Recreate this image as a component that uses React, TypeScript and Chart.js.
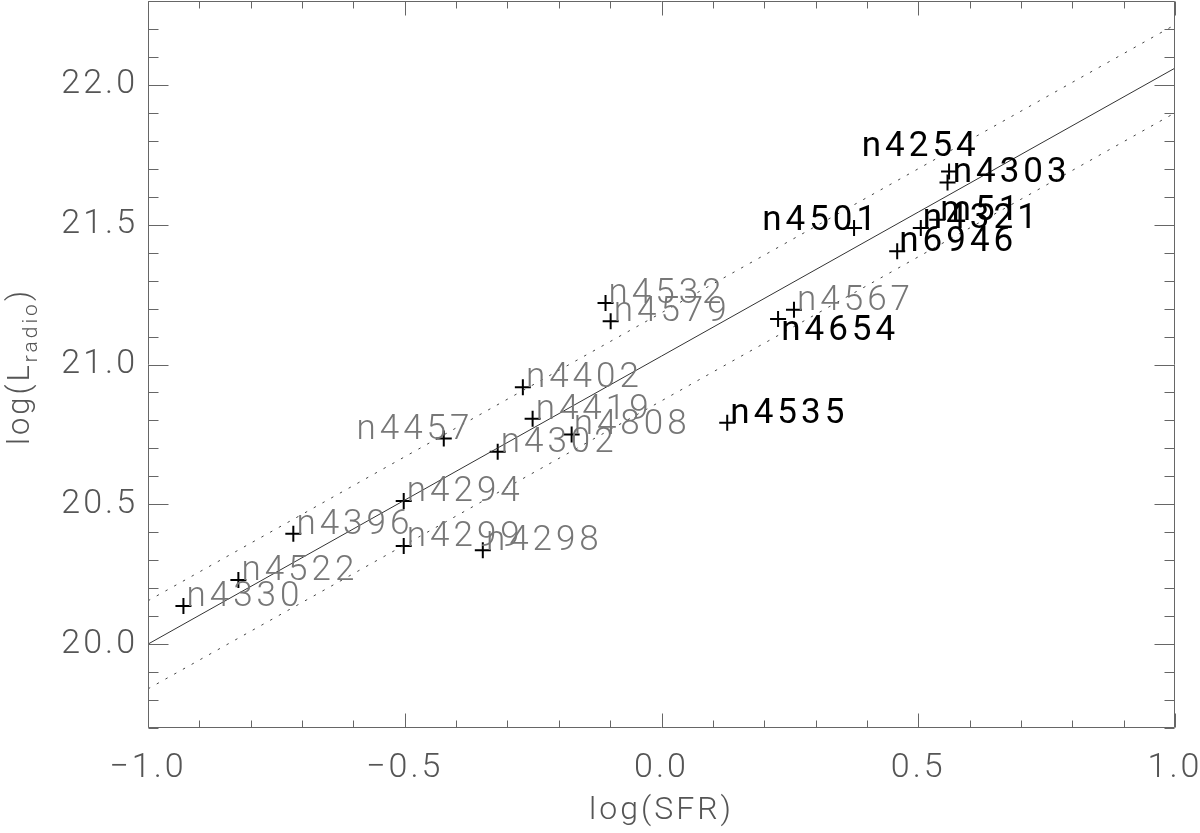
import React, { useEffect, useRef } from 'react';
import { Chart, registerables } from 'chart.js';

Chart.register(...registerables);

// ---- data ----
const galaxyNames = [
  'n4330', 'n4522', 'n4396', 'n4294', 'n4299', 'n4298', 'n4457', 'n4302',
  'n4402', 'n4419', 'n4808', 'n4532', 'n4579', 'n4535', 'n4654', 'n4567',
  'n4501', 'n4254', 'n4303', 'm51', 'n4321', 'n6946',
];
const logSFR = [
  -0.931, -0.824, -0.717, -0.502, -0.502, -0.348, -0.424, -0.319,
  -0.270, -0.251, -0.175, -0.109, -0.099, 0.128, 0.227, 0.258,
  0.375, 0.560, 0.557, 0.537, 0.505, 0.459,
];
const logLradio = [
  20.136, 20.229, 20.395, 20.512, 20.351, 20.336, 20.735, 20.688,
  20.919, 20.806, 20.750, 21.220, 21.155, 20.792, 21.163, 21.196,
  21.488, 21.690, 21.651, 21.518, 21.488, 21.405,
];
// labels drawn in black (others in grey)
const blackLabel = [
  false, false, false, false, false, false, false, false,
  false, false, false, false, false, true, true, false,
  true, true, true, true, true, true,
];
// label anchor shift from the point, in data units
const labelShiftX = [
  0.006, 0.006, 0.006, 0.006, 0.006, 0.006, -0.170, 0.006,
  0.006, 0.006, 0.004, 0.006, 0.006, 0.006, 0.006, 0.006,
  -0.179, -0.170, 0.010, 0.006, 0.004, 0.004,
];
const labelShiftY = [
  0, 0, 0, 0, 0, 0, 0, 0,
  0, 0, 0, 0, 0, 0, -0.075, 0,
  -0.007, 0.054, 0, 0, 0, 0,
];
// relation lines (end points)
const lineX = [-1.0, 1.0];
const fitLineY = [20.0, 22.06];
const upperLineY = [20.155, 22.215];
const lowerLineY = [19.84, 21.9];
// axes
const xMajorTicks = [-1.0, -0.5, 0.0, 0.5, 1.0];
const yMajorTicks = [20.0, 20.5, 21.0, 21.5, 22.0];
const xRange = [-1.0, 1.0];
const yRange = [19.7, 22.3];

const FONT = 'Roboto';
const isMajor = (v: number, majors: number[]) => majors.some((m) => Math.abs(m - v) < 1e-6);
const fmt = (v: number) => (v < -1e-9 ? '\u2212' + Math.abs(v).toFixed(1) : Math.abs(v).toFixed(1));

const zeroPad = (s: any) => {
  s.paddingTop = 0;
  s.paddingBottom = 0;
  s.paddingLeft = 0;
  s.paddingRight = 0;
};

const idlPlugin = {
  id: 'idlPlugin',
  beforeDraw(chart: any) {
    chart.ctx.letterSpacing = '3px';
  },
  afterDatasetsDraw(chart: any) {
    const { ctx, scales } = chart;
    const xs = scales.x;
    const ys = scales.y;
    ctx.save();
    ctx.letterSpacing = '4px';
    ctx.textAlign = 'left';
    ctx.textBaseline = 'alphabetic';
    galaxyNames.forEach((name, i) => {
      const px = xs.getPixelForValue(logSFR[i] + labelShiftX[i]);
      const py = ys.getPixelForValue(logLradio[i] + labelShiftY[i]);
      if (blackLabel[i]) {
        ctx.font = `400 35px ${FONT}`;
        ctx.fillStyle = '#000';
      } else {
        ctx.font = `300 35px ${FONT}`;
        ctx.fillStyle = '#777';
      }
      ctx.fillText(name, px, py);
    });
    ctx.restore();
  },
  afterDraw(chart: any) {
    const { ctx, chartArea: a, scales } = chart;
    const xs = scales.x;
    const ys = scales.y;
    ctx.save();
    ctx.letterSpacing = '0px';
    ctx.strokeStyle = '#666';
    ctx.lineWidth = 1;
    const L = Math.round(a.left) + 0.5;
    const R = Math.round(a.right) - 0.5;
    const T = Math.round(a.top) + 0.5;
    const B = Math.round(a.bottom) - 0.5;
    ctx.beginPath();
    ctx.rect(L, T, R - L, B - T);
    xs.ticks.forEach((t: any) => {
      const p = Math.round(xs.getPixelForValue(t.value)) + 0.5;
      const len = isMajor(t.value, xMajorTicks) ? 14 : 7;
      ctx.moveTo(p, B);
      ctx.lineTo(p, B - len);
      ctx.moveTo(p, T);
      ctx.lineTo(p, T + len);
    });
    ys.ticks.forEach((t: any) => {
      const p = Math.round(ys.getPixelForValue(t.value)) + 0.5;
      const len = isMajor(t.value, yMajorTicks) ? 20 : 10;
      ctx.moveTo(L, p);
      ctx.lineTo(L + len, p);
      ctx.moveTo(R, p);
      ctx.lineTo(R - len, p);
    });
    ctx.stroke();

    // y-axis title with subscript
    const big = `300 31px ${FONT}`;
    const small = `300 21px ${FONT}`;
    ctx.letterSpacing = '3px';
    ctx.fillStyle = '#555';
    ctx.textBaseline = 'alphabetic';
    ctx.textAlign = 'left';
    ctx.font = big;
    const w1 = ctx.measureText('log(L').width;
    const w3 = ctx.measureText(')').width;
    ctx.font = small;
    const w2 = ctx.measureText('radio').width;
    const total = w1 + w2 + w3;
    ctx.translate(29, (a.top + a.bottom) / 2 + 2);
    ctx.rotate(-Math.PI / 2);
    let x0 = -total / 2;
    ctx.font = big;
    ctx.fillText('log(L', x0, 0);
    x0 += w1;
    ctx.font = small;
    ctx.fillText('radio', x0, 8);
    x0 += w2;
    ctx.font = big;
    ctx.fillText(')', x0, 0);
    ctx.restore();
    chart.ctx.letterSpacing = '0px';
  },
};

export default function App() {
  const canvasRef = useRef<HTMLCanvasElement | null>(null);

  useEffect(() => {
    if (!canvasRef.current) return;
    const pts = logSFR.map((x, i) => ({ x, y: logLradio[i] }));
    const mk = (ys: number[]) => lineX.map((x, i) => ({ x, y: ys[i] }));
    const chart = new Chart(canvasRef.current, {
      type: 'scatter',
      data: {
        datasets: [
          {
            type: 'line',
            label: 'fit',
            data: mk(fitLineY),
            borderColor: '#333',
            borderWidth: 1,
            pointRadius: 0,
            fill: false,
          },
          {
            type: 'line',
            label: 'upper',
            data: mk(upperLineY),
            borderColor: '#444',
            borderWidth: 1,
            borderDash: [2.5, 7.5],
            pointRadius: 0,
            fill: false,
          },
          {
            type: 'line',
            label: 'lower',
            data: mk(lowerLineY),
            borderColor: '#444',
            borderWidth: 1,
            borderDash: [2.5, 7.5],
            pointRadius: 0,
            fill: false,
          },
          {
            label: 'galaxies',
            data: pts,
            pointStyle: 'cross',
            pointRadius: 8,
            pointBorderWidth: 2,
            borderColor: '#000',
            backgroundColor: '#000',
          } as any,
        ],
      },
      options: {
        responsive: false,
        animation: false,
        devicePixelRatio: 1,
        layout: { autoPadding: false, padding: { left: 0, right: 25, top: 1, bottom: 0 } },
        plugins: {
          legend: { display: false },
          tooltip: { enabled: false },
        },
        scales: {
          x: {
            type: 'linear',
            min: xRange[0],
            max: xRange[1],
            border: { display: false },
            grid: { display: false, drawTicks: false },
            afterFit: (s: any) => { s.height = 105; zeroPad(s); },
            ticks: {
              stepSize: 0.1,
              autoSkip: false,
              maxRotation: 0,
              padding: 20,
              color: '#555',
              font: { family: FONT, size: 34, weight: '300' },
              callback: (v: any) => (isMajor(Number(v), xMajorTicks) ? fmt(Number(v)) : ''),
            },
            title: {
              display: true,
              text: 'log(SFR)',
              color: '#555',
              font: { family: FONT, size: 32, weight: '300' },
              padding: { top: 0, bottom: 3 },
            },
          },
          y: {
            type: 'linear',
            min: yRange[0],
            max: yRange[1],
            border: { display: false },
            grid: { display: false, drawTicks: false },
            afterFit: (s: any) => { s.width = 148; zeroPad(s); },
            ticks: {
              stepSize: 0.1,
              autoSkip: false,
              padding: 10,
              color: '#555',
              font: { family: FONT, size: 34, weight: '300' },
              callback: (v: any) => (isMajor(Number(v), yMajorTicks) ? fmt(Number(v)) : ''),
            },
          },
        },
      },
      plugins: [idlPlugin],
    });
    return () => chart.destroy();
  }, []);

  return (
    <div style={{ position: 'absolute', left: 0, top: 0, width: 1200, height: 833, background: '#fff' }}>
      <canvas ref={canvasRef} width={1200} height={833} style={{ width: 1200, height: 833 }} />
    </div>
  );
}
